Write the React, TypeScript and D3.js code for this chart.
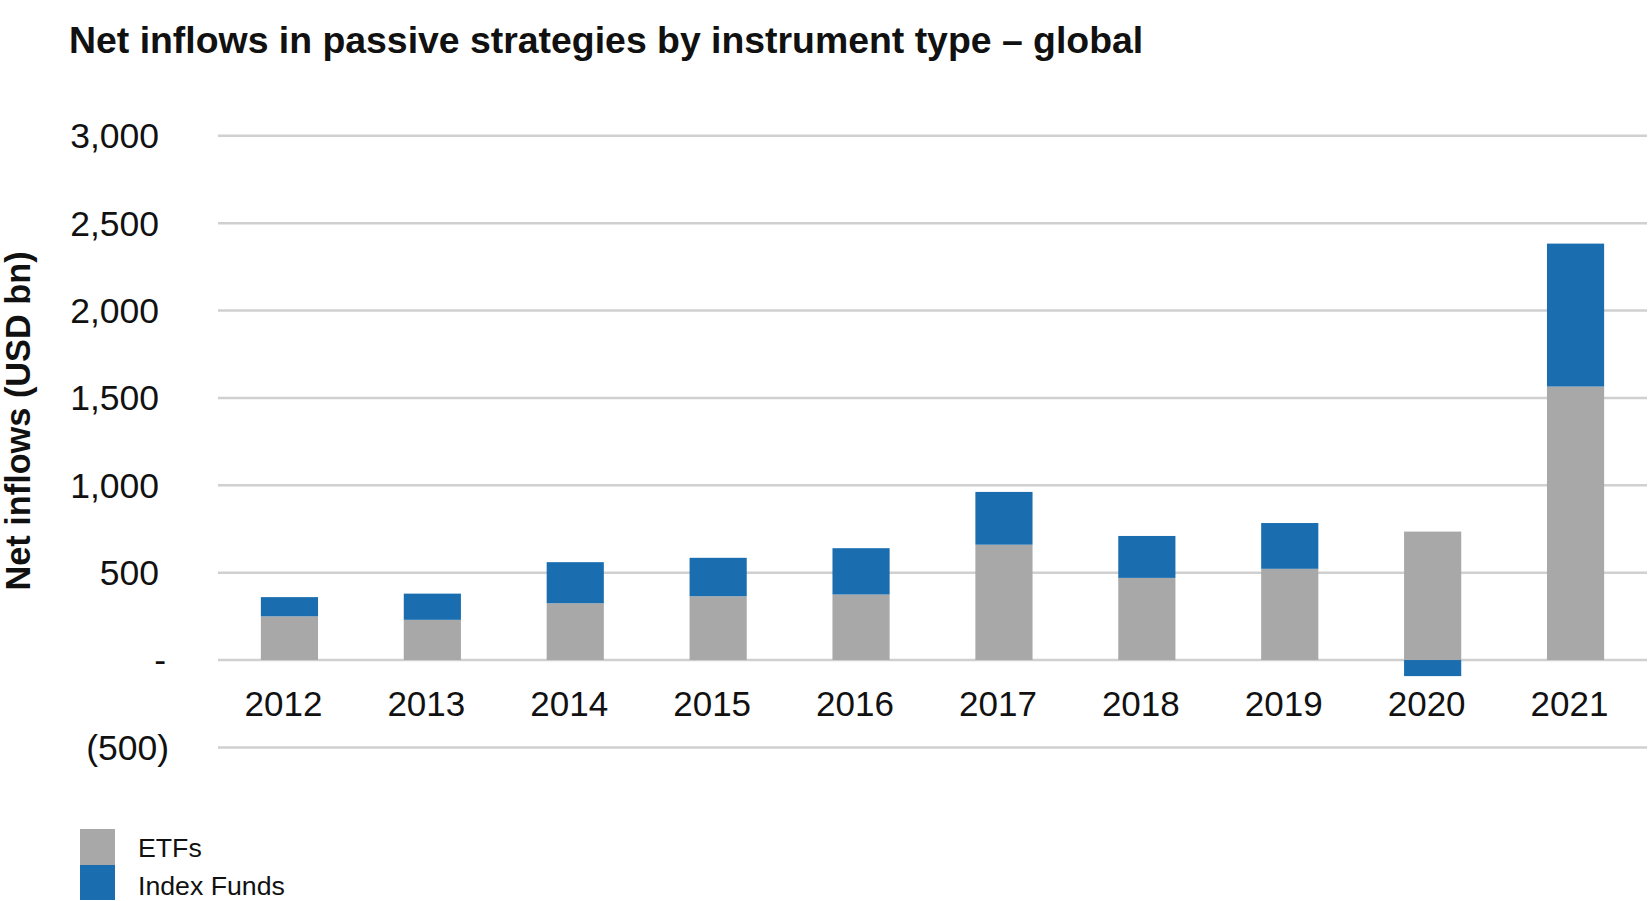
import { useEffect } from "react"
import * as d3 from "d3"

const years = ["2012", "2013", "2014", "2015", "2016", "2017", "2018", "2019", "2020", "2021"]
const etfs = [250, 230, 325, 365, 375, 660, 470, 522, 735, 1565]
const indexFunds = [110, 150, 235, 220, 265, 302, 240, 262, -92, 818]
const yTicks = [-500, 0, 500, 1000, 1500, 2000, 2500, 3000]

const W = 1650
const H = 901
const margin = { top: 135.8, right: 3, bottom: 153.6, left: 218 }

const GRAY = "#a8a8a9"
const BLUE = "#1a6eaf"
const GRID = "#d0d0d0"
const FONT = "'Liberation Sans', Arial, Helvetica, sans-serif"

function fmtTick(v: number) {
  if (v === 0) return "-"
  if (v < 0) return `(${d3.format(",")(-v)})`
  return d3.format(",")(v)
}

export default function App() {
  useEffect(() => {
    document.body.style.margin = "0"
  }, [])

  const x = d3
    .scaleBand()
    .domain(years)
    .range([margin.left, W - margin.right])
    .paddingInner(0.6)
    .paddingOuter(0.3)
  const y = d3.scaleLinear().domain([-500, 3000]).range([H - margin.bottom, margin.top])

  // stack: ETFs from zero, index funds on top (or below zero when negative)
  const segs = years.flatMap((yr, i) => {
    const e = etfs[i]
    const f = indexFunds[i]
    const etfSeg = { key: yr + "e", yr, y0: 0, y1: e, color: GRAY }
    const idxSeg = f >= 0 ? { key: yr + "i", yr, y0: e, y1: e + f, color: BLUE } : { key: yr + "i", yr, y0: f, y1: 0, color: BLUE }
    return [etfSeg, idxSeg]
  })

  return (
    <svg width={W} height={H} style={{ display: "block", background: "#fff" }}>
      <text x={69} y={53} fontFamily={FONT} fontWeight="bold" fontSize={37.4} fill="#111">
        Net inflows in passive strategies by instrument type – global
      </text>

      <text
        transform={`translate(30,${421}) rotate(-90)`}
        textAnchor="middle"
        fontFamily={FONT}
        fontWeight="bold"
        fontSize={34.3}
        fill="#111"
      >
        Net inflows (USD bn)
      </text>

      {yTicks.map((t) => (
        <g key={t}>
          <line x1={margin.left} x2={W - margin.right} y1={y(t)} y2={y(t)} stroke={GRID} strokeWidth={2.5} />
          <text
            x={t < 0 ? 169 : t === 0 ? 166 : 159}
            y={y(t)}
            dy="0.35em"
            textAnchor="end"
            fontFamily={FONT}
            fontSize={35.5}
            fill="#111"
          >
            {fmtTick(t)}
          </text>
        </g>
      ))}

      {segs.map((s) => (
        <rect
          key={s.key}
          x={x(s.yr)}
          width={x.bandwidth()}
          y={y(s.y1)}
          height={y(s.y0) - y(s.y1)}
          fill={s.color}
        />
      ))}

      {years.map((yr) => (
        <text
          key={yr}
          x={(x(yr) ?? 0) + x.bandwidth() / 2 - 6}
          y={716}
          textAnchor="middle"
          fontFamily={FONT}
          fontSize={35}
          fill="#111"
        >
          {yr}
        </text>
      ))}

      <rect x={80} y={829} width={35} height={36} fill={GRAY} />
      <rect x={80} y={865} width={35} height={35} fill={BLUE} />
      <text x={138} y={857} fontFamily={FONT} fontSize={26.7} fill="#111">
        ETFs
      </text>
      <text x={138} y={895} fontFamily={FONT} fontSize={26.7} fill="#111">
        Index Funds
      </text>
    </svg>
  )
}
